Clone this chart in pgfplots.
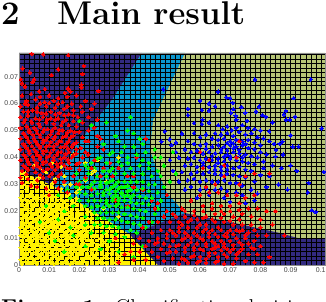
\documentclass[border=0pt]{standalone}
\usepackage{pgfplots}
\pgfplotsset{compat=1.18}
\usepackage{fontspec}
\newfontfamily\lab{Liberation Sans}
\definecolor{cnavy}{RGB}{50,42,128}
\definecolor{ccyan}{RGB}{10,150,205}
\definecolor{colive}{RGB}{182,197,118}
\definecolor{cyel}{RGB}{255,240,0}
\definecolor{ctick}{RGB}{70,70,70}
\pgfplotsset{
  base/.style={scale only axis,width=306bp,height=212bp,xmin=0,xmax=0.1014,ymin=0,ymax=0.0788,at={(0,0)},anchor=south west},
  pts/.style={only marks,color=#1,mark=*,mark size=1.75bp,mark options={solid,draw=#1,fill=#1,line width=0pt},x filter/.expression={x/1000},y filter/.expression={y/1000}},
}
\begin{document}
\begin{tikzpicture}
\useasboundingbox (-19bp,-37bp) rectangle (307bp,265bp);
\clip (-19bp,-37bp) rectangle (307bp,265bp);
\begin{axis}[base,hide axis]
\addplot[fill=colive,draw=none] coordinates {(0,0)(0.1014,0)(0.1014,0.0788)(0,0.0788)} \closedcycle;
\addplot[fill=cnavy,draw=none] coordinates {(0,0.0788)(0.0407,0.0788)(0.0308,0.0613)(0.0179,0.0428)(0.0119,0.029)(0,0.0353)(0,0.0788)};
\addplot[fill=ccyan,draw=none] coordinates {(0.0407,0.0788)(0.055,0.0788)(0.0444,0.0539)(0.0434,0.0428)(0.045,0.0372)(0.049,0.0268)(0.055,0.0193)(0.0368,0.0112)(0.0301,0.016)(0.0119,0.029)(0.0179,0.0428)(0.0308,0.0613)(0.0407,0.0788)};
\addplot[fill=cyel,draw=none] coordinates {(0,0.0353)(0.0119,0.029)(0.0301,0.016)(0.0368,0.0112)(0.046,0)(0,0)(0,0.0353)};
\addplot[fill=cnavy,draw=none] coordinates {(0.0368,0.0112)(0.055,0.0193)(0.0699,0.016)(0.0864,0.0119)(0.0924,0.01)(0.1014,0.01)(0.1014,0)(0.046,0)(0.0368,0.0112)};
\end{axis}
\begin{axis}[base,
  clip=false,
  scaled ticks=false,
  axis line style={draw=black!45,line width=0.5pt},
  tick style={draw=none},
  xtick={0,0.01,0.02,0.03,0.04,0.05,0.06,0.07,0.08,0.09,0.1},
  xticklabels={0,0.01,0.02,0.03,0.04,0.05,0.06,0.07,0.08,0.09,0.1},
  ytick={0,0.01,0.02,0.03,0.04,0.05,0.06,0.07},
  yticklabels={0,0.01,0.02,0.03,0.04,0.05,0.06,0.07},
  tick label style={font=\lab\fontsize{7}{7}\selectfont,text=ctick},
  xticklabel style={yshift=1bp},
  yticklabel style={xshift=2.5bp},
  minor xtick={0.00167,0.00333,0.005,0.00667,0.00833,0.01,0.01167,0.01333,0.015,0.01667,0.01833,0.02,0.02167,0.02333,0.025,0.02667,0.02833,0.03,0.03167,0.03333,0.035,0.03667,0.03833,0.04,0.04167,0.04333,0.045,0.04667,0.04833,0.05,0.05167,0.05333,0.055,0.05667,0.05833,0.06,0.06167,0.06333,0.065,0.06667,0.06833,0.07,0.07167,0.07333,0.075,0.07667,0.07833,0.08,0.08167,0.08333,0.085,0.08667,0.08833,0.09,0.09167,0.09333,0.095,0.09667,0.09833,0.1},
  minor ytick={0.00167,0.00333,0.005,0.00667,0.00833,0.01,0.01167,0.01333,0.015,0.01667,0.01833,0.02,0.02167,0.02333,0.025,0.02667,0.02833,0.03,0.03167,0.03333,0.035,0.03667,0.03833,0.04,0.04167,0.04333,0.045,0.04667,0.04833,0.05,0.05167,0.05333,0.055,0.05667,0.05833,0.06,0.06167,0.06333,0.065,0.06667,0.06833,0.07,0.07167,0.07333,0.075,0.07667,0.07833},
  grid=minor,
  minor grid style={draw=black,line width=0.3bp},
]
% yellow class
\addplot[pts=yellow] coordinates {
(1,.5)(3.5,.8)(6,.4)(9,.9)(11.5,.5)(14,.7)(17,.4)(20,.9)(22.5,.6)(26,.8)(29,.5)(32,1)(35,.7)
(.5,2)(3,2.3)(5,1.9)(8,2.4)(10.5,2)(13,2.2)(15.5,1.8)(18,2.4)(21,2)(24,2.3)(27,1.9)(30.5,2.5)(34,2.2)
(2,3.5)(4.5,3.9)(7,3.3)(9.5,3.7)(12,3.4)(14.5,3.9)(17,3.5)(19.5,3.8)(23,3.3)(25.5,3.9)(29,3.6)(33,3.4)
(1,5)(3.5,5.4)(6,4.9)(8.5,5.3)(11,5)(13.5,5.5)(16,4.8)(18.5,5.4)(21,5)(24,5.2)(27.5,4.9)(31,5.5)
(.5,6.5)(2.5,6.9)(5,6.4)(7.5,6.8)(10,6.5)(12.5,7)(15,6.3)(17.5,6.8)(20,6.5)(22.5,6.9)(26,6.4)(29.5,6.7)(34,6.5)
(1.5,8)(4,8.4)(6.5,7.9)(9,8.3)(11.5,8)(14,8.5)(16.5,7.8)(19,8.3)(21.5,8)(24.5,8.2)(28,8.6)
(3,9.5)(5.5,9.9)(8,9.4)(10.5,9.8)(13,9.5)(15.5,10)(18,9.3)(20.5,9.8)(23,9.5)(27,9.9)(31,9.4)
(.5,11)(2,11.4)(4.5,10.9)(7,11.3)(9.5,11)(12,11.5)(14.5,10.8)(17,11.3)(19.5,11)(22,11.4)(25.5,11.1)(29,11.5)
(1.5,12.5)(4,12.9)(6,12.4)(8.5,12.8)(11,12.5)(13.5,13)(16,12.3)(18.5,12.8)(21,12.5)(24,12.9)
(.5,14)(3,14.4)(5.5,13.9)(7.5,14.3)(10,14)(12.5,14.5)(15,13.8)(17.5,14.3)(20,14)(23,14.4)(26,14.1)
(2,15.5)(4.5,15.9)(7,15.4)(9,15.8)(11.5,15.5)(14,16)(16.5,15.3)(19,15.8)(22,15.5)
(1,17)(3.5,17.4)(6,16.9)(8.5,17.3)(11,17)(13,17.5)(15.5,16.8)(18,17.3)(21,17)(24,17.2)
(2.5,18.5)(5,18.9)(7.5,18.4)(10,18.8)(12.5,18.5)(15,19)(17.5,18.3)(20,18.8)
(1,20)(4,20.4)(6.5,19.9)(9,20.3)(11.5,20)(14,20.5)(17,19.8)(19.5,20.3)(23,20)
(2.5,21.5)(5,21.9)(8,21.4)(10.5,21.8)(13,21.5)(16,22)(21,21.6)
(1,23)(3.5,23.4)(6,22.9)(9,23.3)(12,23)(15,23.5)(18,23.1)
(2,24.5)(5,24.9)(7.5,24.4)(11,24.8)(14,24.5)(19,24.8)
(1,26)(4,26.4)(8,25.9)(10,26.3)(13,26)(16.5,26.4)
(2.5,28)(6,28.4)(9.5,27.9)(14,28.3)(20,28)
(1.5,30)(4,30.4)(8,29.9)(11,30.3)(17,30)(22,31.5)
(3,32)(6.5,32.4)(12,32)(15,33)(24,34)
(2,34)(9,34.5)(5,37)(14,36.5)(22,38)(26,39)(18,41)(29,31)(32,24)(28,21)(33,18)(30,14)
(2.2,1.2)(4.8,1.1)(7.4,1.4)(10,1.2)(12.6,1.3)(15.4,1.1)(18.6,1.3)(21.4,1.4)(24.2,1.2)(27.6,1.1)(30.8,1.5)
(1.4,2.9)(3.9,3)(6.3,2.8)(8.8,3.1)(11.2,2.9)(13.7,3)(16.3,2.7)(18.9,3.1)(22,2.8)(25,3)(28,2.7)
(2.3,4.5)(4.9,4.6)(7.3,4.3)(9.8,4.6)(12.4,4.4)(14.9,4.7)(17.4,4.3)(20,4.6)(22.6,4.4)(25.8,4.6)(29.4,4.4)
(1.8,5.9)(4.3,6.1)(6.9,5.8)(9.3,6.1)(11.8,5.9)(14.4,6.2)(16.8,5.7)(19.3,6.1)(22,5.9)(25,6)
(2.9,7.4)(5.4,7.7)(8,7.3)(10.6,7.6)(13.2,7.4)(15.6,7.7)(18.2,7.2)(20.8,7.6)(23.4,7.4)(27,7.6)
(.9,9)(3.4,9.1)(5.9,8.8)(8.4,9.1)(10.9,8.9)(13.3,9.2)(15.9,8.7)(18.4,9.1)(20.9,8.9)(23.9,9.1)
(1.6,10.3)(4.1,10.5)(6.6,10.2)(9.1,10.5)(11.6,10.3)(14.1,10.6)(16.6,10.1)(19.1,10.5)(21.6,10.3)(25,10.6)
(3,12)(5.3,11.9)(7.7,12.1)(10.1,11.9)(12.7,12.2)(15.2,11.7)(17.7,12.1)(20.2,11.9)(22.8,12.1)
(2,13.4)(4.6,13.6)(7,13.3)(9.3,13.6)(11.7,13.4)(14.2,13.7)(16.7,13.2)(19.2,13.6)(21.7,13.4)
(1.2,15)(3.6,15)(5.9,14.9)(8.3,15.1)(10.7,14.9)(13.2,15.2)(15.7,14.7)(18.2,15.1)(20.7,14.9)
(2.7,16.4)(5.2,16.6)(7.7,16.3)(10,16.6)(12.4,16.4)(14.8,16.6)(17.2,16.2)(19.8,16.6)
(1.7,18)(4.2,18.1)(6.7,17.9)(9.2,18.1)(11.7,17.9)(14.2,18.2)(16.7,17.8)(19.2,18.1)
(3,19.5)(5.6,19.6)(8,19.4)(10.4,19.6)(12.8,19.3)(15.5,19.6)
(1.8,21)(4.2,21.1)(6.8,20.9)(9.5,21.1)(12,20.9)(14.8,21.2)
(2.5,22.5)(5,22.6)(7.6,22.4)(10.4,22.6)(13.4,22.4)(.5,25)(3.5,25.5)(6.2,25.2)(9.4,25)(12.2,25.4)
};
% blue class
\addplot[pts=blue] coordinates {
(47.8,65.3)(66,64.4)(60,61)(63,60)(65,59)(56,58)(60.6,57.6)(63,57.4)(56,55.7)(60.8,54)(60.6,52.4)(58,52.7)(63,53)(48.3,49.7)(54,48.8)(47.2,45.9)(50,46.7)(52,45.5)(50.5,44.6)
(78.2,69)(96.7,69)(68.7,62.3)(70,62)(70.8,60.3)(91,62)(73.7,58.7)(79.6,58.9)(71,57.9)(70.2,56.6)(71.8,55.5)(75,56.6)(78.5,57.1)(80.7,55.7)(81.8,55.1)(88.4,57.3)(87.8,56)(88.6,54)(89.7,54)(91.5,55.1)(84,53)(72,54)(75.6,53.6)(100.3,50.8)(90,48.2)(90.7,44)(92.6,44)(87.3,45.9)(86.4,45)(84.5,45)(82.9,49.7)(87.5,41)(85.1,42.8)(85,40.3)(101,34.6)(96,30.5)(95.7,27)(97,20.4)(98.3,19.7)
(66,52)(67.5,50.5)(69,51.5)(70.5,50)(72,51)(74,52)(76,51)(78,50.5)(80,50)(65,49)(67,48.5)(69,49)(71,48)(73,49.5)(75,48.5)(77,49)(79,47.5)(81,47)
(58,49)(60,47.5)(62,48.5)(64,47)(66,46.5)(68,47)(70,46)(72,46.5)(74,46)(76,46.5)(78,45.5)(80,44.5)(83,46)
(56,46)(58,45)(60,44.5)(62,45)(64,44)(66,44.5)(68,44)(70,44.5)(72,44)(74,44.5)(76,43.5)(78,43)(80,42)(82,41)
(52,42)(55,43)(57,42)(59,42.5)(61,41.5)(63,42)(65,41.5)(67,42)(69,41)(71,42)(73,41.5)(75,41)(77,40.5)(79,40)(81,38.5)(84,37)
(50,39)(53,40)(56,39.5)(58,40)(60,39)(62,39.5)(64,39)(66,39.5)(68,38.5)(70,39.5)(72,39)(74,38.5)(76,38)(78,37.5)(81,36)(87,36)(90,37)(92,35)
(55,37)(57,37.5)(59,36.5)(61,37)(63,36.5)(65,37)(67,36.5)(69,37)(71,36)(73,36.5)(75,35.5)(77,35)(80,33.5)(83,33)(86,30)(89,28)(82,29)
(51,35)(54,34.5)(57,34)(59,34.5)(61,34)(63,34.5)(65,34)(67,33.5)(69,34)(71,33.5)(73,33)(75,32.5)(78,31)
(53,31)(56,31.5)(58,32)(60,31)(62,31.5)(64,31)(66,31)(68,31.5)(70,30.5)(72,30.5)(74,29.5)(77,28)(79,26.5)
(55,28)(57,29)(60,28)(62,28.5)(65,28)(67,28.5)(69,27.5)(72,27)(74,26)(70,23.5)(75,23)(68,25)(63,26)(59,25)(78,24)
(67,43)(69,42.7)(71,43.3)(73,42.8)(68,40.3)(70,40.5)(72,40.2)(74,40)(66,38)(64,40.5)(62,43.3)(75,45)(69,45.3)(71,45.2)(65,35.5)(67,35.2)(69,35.6)(61,38)
};
% red of the upper left group, first part (below the green)
\addplot[pts=red] coordinates {
(30,38)(33,36)(36,33)(28,36)(31,33)(39,40)(42,47)(38,33)(41,28)(34,29)(32,24)(36,22)(38,29)(44,24)(25,24)
(17,36)(20,38)(23,41)(26,44)(22,46)(19,43)(25,51)(27,47)(13,33)(19,30)(6,29)(10,26)
};
% green class
\addplot[pts=green] coordinates {
(20,53.5)(40,47)(29,53)(24,52)(36,50)(37,55)(38,44)(33,46)(31,42)(27,40)(24,38)(29,38)(34,42)(36,40)(39,41)(42,42)(45,40)(48,37)(51,42)
(25,36)(28,35)(31,36)(34,37)(37,36)(40,37)(43,36)(46,35)(23,34)(26,33)(29,33)(32,34)(35,34)(38,34)(41,34)(44,33)(47,33)
(20,31)(22,32)(25,31)(27,31)(29,30.5)(31,31.5)(33,31)(35,31)(37,31)(39,31)(41,31)(43,30)(45,30)(48,29)
(16,28)(19,29)(21,29)(23,29)(25,28.5)(27,29)(29,28)(31,29)(33,28.5)(35,29)(37,28)(39,28)(41,28.5)(43,27.5)(46,27)
(13,26)(17,25)(20,27)(22,26.5)(24,26)(26,26.5)(28,26)(30,26.5)(32,26)(34,26.5)(36,26)(38,26)(40,25.5)(42,25)(44,25)(47,24)
(20,24)(23,24)(25,24)(27,24)(29,24)(31,24)(33,24)(35,24)(37,23.5)(39,23)(41,23)(43,22.5)(46,21)
(18,22)(22,22)(24,21.5)(26,22)(28,21.5)(30,22)(32,22)(34,21.5)(36,21.5)(38,21)(40,20.5)(42,20)(45,19)
(9,22)(15,20)(25,19.5)(27,19.5)(29,19.5)(31,19.5)(33,19.5)(35,19)(37,18.5)(39,18)(41,17.5)(44,16)
(7,16)(13,17)(22,18)(26,17.5)(28,17.5)(30,17)(32,17)(34,16.5)(36,16)(38,15.5)(40,15)(42,14)
(17,14)(22,15)(25,15)(27,15)(29,14.5)(31,14.5)(33,14)(37,13)(39,12)
(10,12)(18,11)(24,12)(28,12)(32,11.5)(35,10.5)(43,9)(41,7)(30,9)(22,7)(15,5)(12,9)(27,6)(33,5)(38,3)
(30,31)(32,30)(34,29)(28,27)(30,28)(32,27.5)(34,27)(36,27.5)(31,25)(33,25)(35,25.5)(29,23)(33,22.8)(37,25)(27,30)(24,30)(36,29.5)
(30,35)(33,38.5)(36,38)(41,39)(26,39.5)(30,41)(35,44)(23,36)(19,34)(22,37)(43,38)(47,40)(38,49)(32,48)(28,45)(41,45)(50,31)(52,34)(45,43)
};
% a few yellow points among the green
\addplot[pts=yellow] coordinates {(7,36)(11,38)(15,30)(19,27)(25,35)(33,40)(12,20)(5,31)};
% red, upper left
\addplot[pts=red] coordinates {
(4.2,78.5)(8,78.3)(16.3,78)(21.5,74)(1.2,73)(13,72.7)(3.6,71.5)(10.8,70.6)(21,71)(.6,69)(5,69)(4.5,68)(1,67.5)(16.3,65.6)(20.7,67)(20.7,66)(26.3,64.7)(2,66.3)(6.7,64.5)(8.6,65.4)(17,64.5)(15.2,64)
(1,63)(4,63.5)(7,62.5)(10,63)(13,62)(16,62.5)(19,63)(22,61)(25,60)(2.5,61)(5.5,61.5)(8.5,60.5)(11.5,61)(14.5,60.5)(17.5,60)(20.5,59)
(.5,59)(3,59.5)(6,58.5)(9,59)(12,58.5)(15,58)(18,57.5)(21,57)(24,58)(1.5,57)(4.5,57.5)(7.5,56.5)(10.5,57)(13.5,56.5)(16.5,56)(19.5,55)(23,55)
(.5,55)(3,55.5)(5.5,54.5)(8,55)(10.5,54.5)(13,54.5)(15.5,54)(18,53.5)(21,53)(26,54)(1.5,53)(4,53.5)(6.5,52.5)(9,53)(11.5,52.5)(14,52)(16.5,52)(19,51.5)
(.5,51)(2.5,51.5)(5,51)(7,51.5)(9.5,50.5)(12,51)(14.5,50)(17,50)(20,49.5)(23,50)(1.5,49)(3.5,49.5)(6,49)(8,49.5)(10.5,48.5)(13,49)(15.5,48)(18,48)(21,47.5)(26,48)
(.5,47)(2.5,47.5)(5,47)(7,47.5)(9,46.5)(11.5,47)(14,46)(16.5,46)(19,45.5)(23,46)(1.5,45)(3.5,45.5)(6,45)(8,45.5)(10,44.5)(12.5,45)(15,44)(17.5,44)(20.5,43.5)
(.5,43)(2.5,43.5)(5,43)(7,43.5)(9,42.5)(11.5,43)(14,42)(16.5,42)(19,41.5)(22,42)(28,43)(1.5,41)(3.5,41.5)(6,41)(8,41.5)(10,40.5)(12.5,41)(15,40)(17.5,40)(21,40)(25,39)
(.5,39)(2.5,39.5)(5,39)(7,39.5)(9,38.5)(11.5,39)(14,38)(16.5,38)(19,37.5)(1.5,37)(3.5,37.5)(6,37)(8,37.5)(11,36.5)(13,36.5)(16,36)(20,35.5)(24,36)
(1,35)(3,35.5)(5.5,34.5)(8,35)(11,34)(14,34)(18,33)(22,32.5)(27,33)(.5,32.5)(3,32)(6,31.5)(8,32.5)(12,31)(15,31)(20,30)(1,30.5)(4,29.5)(9,28.5)(13,28.5)(16,27)(24,28)
(2,54)(4.3,53)(6.8,54)(9.2,54)(12,54)(14.5,53.2)(3.3,50.3)(5.8,50)(8.3,50.4)(11,50)(13.4,50.2)(16,49.2)(18.4,49.5)(2,48.3)(4.5,48.4)(7,48.3)(9.5,47.5)(12,47.8)(14.5,47.5)(17,47.3)
(3,46.4)(5.5,46)(8,46.4)(10.5,45.8)(13.3,46)(15.8,45.2)(18.2,45)(2,44.3)(4.3,44.2)(6.8,44.3)(9,44)(11.5,44.2)(13.8,43.8)(16.2,43.3)(3.3,42.4)(5.8,42)(8,42.4)(10.4,41.8)(13,42)(15.4,41.3)(18,40.8)
(2.2,40.3)(4.6,40.2)(6.9,40.3)(9.2,40)(11.5,40)(13.8,39.5)(16.3,39.2)(3,38.4)(5.8,38)(8,38.3)(10.3,37.6)(12.5,37.7)(15,37)(2.3,36.2)(4.7,36.3)(7,36.2)(9.5,35.7)(12,35.4)(2.5,33.8)(7,33.5)(10,33)
(3,57)(6,57)(9,56.3)(12,56)(15,55.7)(18,55.6)(2,60)(7,60)(10,60.2)(13,60)(16,59)
};
% red, lower right
\addplot[pts=red] coordinates {
(46,23)(49,26)(45,21)(49,20)(43,16)(41,14)(46,16)(48,18)(51,19)(54,21)(57,24)(60,26)(63,27)(66,27)(69,26)(72,26)(75,25)(78,26)(65,30)(62,29)(68,33)(73,30)(75,33)(68,37)(72,40)(60,42)(63,39)(73,46)(78,34)(83,34)(61,36)
(52,18)(55,18)(58,20)(61,22)(64,23)(67,22)(70,22)(73,23)(76,21)(79,21)(82,20)(85,20)
(50,16)(53,16)(56,16)(59,17)(62,18)(65,19)(68,19)(71,18)(74,19)(77,18)(80,17)(84,15)(88,11)
(44,12)(47,13)(50,13)(53,14)(56,14)(59,14)(62,15)(65,16)(68,16)(71,15)(74,15)(77,15)(80,14)
(40,10)(43,9)(46,10)(49,10)(52,11)(55,12)(58,12)(61,12.5)(64,13)(67,13)(70,13)(73,12.5)(76,12)(79,11)(82,11)
(38,8)(42,7)(45,8)(48,8)(51,9)(54,9.5)(57,10)(60,10)(63,10.5)(66,10.5)(69,10.5)(72,10)(75,10)(78,9)
(32,10)(37,5)(40,5)(44,5)(47,6)(50,7)(53,7.5)(56,7.5)(59,8)(62,8)(65,8)(68,8)(71,7.5)(74,7.5)(77,6.5)(80,7)
(33,1)(35,4)(38,2)(42,2)(46,3)(49,4.5)(52,5)(55,5)(58,5.5)(61,5.5)(64,6)(67,5.5)(70,5)(73,5)(76,4)(79,4)
(48,1.5)(51,2.5)(54,2.5)(57,3)(60,3)(63,3.5)(66,3)(69,3)(72,2.5)(75,1.5)(78,1)(83,3)
(53,.5)(56,1)(59,1)(62,.8)(65,1)(68,.5)(71,.5)(60,1.5)(66,1.5)(81,1)
(51,12)(54,15)(57,17)(60,15)(63,12)(66,14)(69,12)(72,13)(75,11)(78,13)(57,8.5)(60,6)(63,4.5)(66,7)(69,6)(72,4)(55,10)(58,3.5)(61,9.5)(52,7)
(61,20)(64,21)(67,20)(70,20)(73,20.5)(55,20)(58,18.5)(61,17.5)(64,17)(67,17.5)(70,16.5)(73,17)(62,13.5)(65,11.5)(68,11)(71,11.5)(74,13)(53,12.5)(56,11)(59,11)
(64,8.8)(67,9)(70,9)(73,8.5)(62,7)(65,6.5)(68,6.8)(71,6)(74,6)(58,6.5)(55,6.5)(50,5)(46,8.5)(49,11.5)(55,2)(62,2.3)(65,4.5)(68,4)(76,8)(78,6)
};
\end{axis}
\node[anchor=base west,inner sep=0pt,font=\fontsize{33}{33}\selectfont\bfseries] at (-18bp,240bp) {2};
\node[anchor=base west,inner sep=0pt,font=\fontsize{33}{33}\selectfont\bfseries] at (38bp,240bp) {Main result};
\node[anchor=base west,inner sep=0pt,font=\fontsize{23}{23}\selectfont] at (-18bp,-50bp) {\textbf{Figure 1:}\hspace{3bp} Classification decision};
\end{tikzpicture}
\end{document}
